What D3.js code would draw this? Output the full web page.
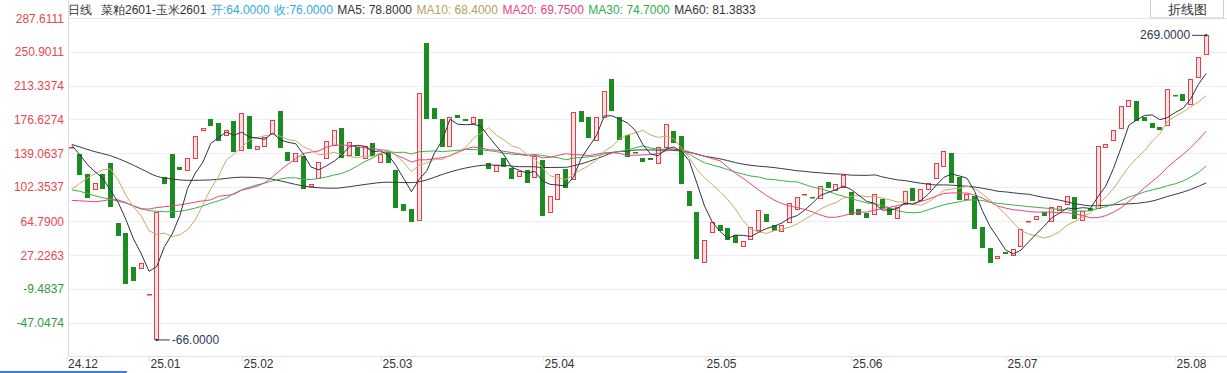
<!DOCTYPE html>
<html><head><meta charset="utf-8">
<script src="https://cdn.jsdelivr.net/npm/d3@7/dist/d3.min.js"></script>
<style>
html,body{margin:0;padding:0;background:#fff;overflow:hidden;}
svg{display:block;font-family:"Liberation Sans",Arial,sans-serif;}
</style></head><body>
<svg id="c" width="1227" height="373"></svg>
<script>
// ---------- data ----------
const opens = [146,139,116,99,116,129,63,52,14.5,12,-16,-66,113,138,124.5,120,132.7,164,177,173,
158.6,175,141.8,180.3,143,146.5,159.4,185.8,140.7,129.4,136.3,102.6,111.8,133.8,147.6,166.8,136.3,145.9,132.7,150.2,
128.3,141,121,83.5,77.7,64,260.3,188.7,176.7,145.5,181.4,176.7,171.5,176.7,128.3,118.4,134.4,122.8,113.5,121,
111.8,132,73.3,88,122,110,186,179.5,153.1,178.4,220.7,179.5,159.4,140.2,133.8,134,128.3,144.8,163.8,158.3,
98,75,18.9,52,60.4,56.8,49.4,36.5,44,54,72.5,60.4,52.4,63.4,77,94.3,91.7,89,107.4,98,
100.8,97,77.7,73.9,71.4,88.7,79.5,67.3,82.4,101.4,86.8,99.7,111,124,139.3,113.5,88,92.6,58.5,35.4,
22.7,31,26.3,36.5,64.6,66.7,75,64,76,83.2,91,65,78.8,78,146,153,165.7,190,197,179.5,
173,168.5,169.3,203.6,204.5,192.4,221.8,247.4];
const closes = [146.3,116,90,107,100,80.5,49,-4,-1,19,-15.7,75,105.5,68,121,134.5,158.3,167,169.6,153,
165,141,183.2,144,147.3,157.5,176,145.5,130.8,139.3,99.7,105.5,130,153.1,165,133.8,152,136.3,147.3,135.5,
138.5,129,78.8,76,63.4,205.3,176.7,176.7,146,178.8,177.8,174,178.8,136.6,121.7,126.4,124,110.7,119.8,106.3,
136.3,70.6,92.3,116.2,101.4,184.3,173.4,156.4,179.5,208.2,185,154.7,135.5,140,129.4,132,146.5,171.5,151,105.2,
81.3,23.8,43.9,64,53.8,43.2,41,42.8,58,77,63.4,54,60.4,85,91,94.6,91.4,103.3,100.8,105.5,
115.4,72,71,68.4,94.2,78.8,71.4,80.5,97.8,86.8,99.7,107,128.3,141.8,106.3,88.7,94.5,56,35.4,19,
26.3,28.5,33.7,56,64.9,70.6,70.3,80,81.6,92.6,67,76,76,147.3,150,165,191.3,198,175,175,
168,165,209.7,203.3,197,220.7,245,269];

// moving-average values read from the picture where the window is not yet full
const ma5Head  = [148,138,127,119];
const ma10Head = [100,106,112,117,121,122,110,93,80];
const ma20Head = [87.5,87,86.5,86,87,88.5,88,85,81,78,78,79.5,80.5,81.5,82.5,84,85.5,87,88];
const ma30Head = [99,97.5,95,92.5,90.5,88.7,86.5,84.5,81.5,78.5,76.2,75.5,75,75,75.5,77,79,81.5,84.5,87,
                  90,95,99,102,104.5,106.5,109,111,112.3];
const ma60HeadIdx = [0,3,5,7,9,11,13,15,18,22,25,27,29,31,34,36,38,41,44,46,48,51,54,56,58];
const ma60HeadVal = [149,141,136.6,130,122,114,111,109.5,110,113,112,109,105,102,100.8,102.6,105,107.5,107,110,116,123,126.4,126,124.5];

const yTickValues = [287.6111,250.9011,213.3374,176.6274,139.0637,102.3537,64.79,27.2263,-9.4837,-47.0474];
const xTickIndex  = [0,10,22,40,61,82,101,121,143];
const xTickLabels = ["24.12","25.01","25.02","25.03","25.04","25.05","25.06","25.07","25.08"];

const headerParts = [
  {t:"日线", c:"#333"},
  {t:"菜粕2601-玉米2601", c:"#333"},
  {t:"开:64.0000", c:"#35a8e6"},
  {t:"收:76.0000", c:"#35a8e6"},
  {t:"MA5: 78.8000", c:"#333"},
  {t:"MA10: 68.4000", c:"#b9a15e"},
  {t:"MA20: 69.7500", c:"#e8417d"},
  {t:"MA30: 74.7000", c:"#2fae4f"},
  {t:"MA60: 81.3833", c:"#333"}
];
const maColors = {ma5:"#2c3345", ma10:"#c8ab66", ma20:"#e8457f", ma30:"#3bb24a", ma60:"#3a3a3a"};

(function draw() {
const svg = d3.select("#c");
const pLeft = 68, pRight = 1210, pBottom = 356;
const n = closes.length;
const x = d3.scaleBand().domain(d3.range(n)).range([pLeft, pRight]);
const cx = i => x(i) + x.bandwidth() / 2;
const y = d3.scaleLinear().domain([-47.0474, 287.6111]).range([322.7, 18.4]);

// grid
svg.append("g").selectAll("line").data(yTickValues).join("line")
  .attr("x1", pLeft).attr("x2", 1227)
  .attr("y1", d => Math.round(y(d)) + 0.5).attr("y2", d => Math.round(y(d)) + 0.5)
  .attr("stroke", "#eceef4").attr("stroke-width", 1);

svg.append("line").attr("x1", pLeft).attr("x2", 1227).attr("y1", 18.5).attr("y2", 18.5)
  .attr("stroke", "#e4e6ee");

svg.append("line").attr("x1", pLeft + 0.5).attr("x2", pLeft + 0.5).attr("y1", 0).attr("y2", pBottom)
  .attr("stroke", "#d9dce8");
svg.append("line").attr("x1", pLeft).attr("x2", 1227).attr("y1", pBottom + 0.5).attr("y2", pBottom + 0.5)
  .attr("stroke", "#dfe2ee");

svg.append("g").selectAll("text").data(yTickValues).join("text")
  .attr("x", 64).attr("y", d => y(d) + 4.5)
  .attr("text-anchor", "end").attr("font-size", 12)
  .attr("fill", d => d >= 0 ? "#e8474d" : "#2f9a3c")
  .text(d => d.toFixed(4));

const xt = svg.append("g");
xTickIndex.forEach((idx, k) => {
  const px = k === 0 ? pLeft - 1 : Math.round(cx(idx)) + 0.5;
  xt.append("line").attr("x1", px).attr("x2", px).attr("y1", pBottom).attr("y2", pBottom + 5)
    .attr("stroke", "#dfe2ee");
  xt.append("text").attr("x", px + 1).attr("y", 368).attr("font-size", 12).attr("fill", "#333")
    .text(xTickLabels[k]);
});

svg.append("line").attr("x1", 0).attr("x2", 127).attr("y1", 372).attr("y2", 372)
  .attr("stroke", "#3b7fd9").attr("stroke-width", 2);

const bw = 5;
const cg = svg.append("g");
d3.range(n).forEach(i => {
  const o = opens[i], c = closes[i];
  const up = c >= o;
  const yt = y(Math.max(o, c)), yb = y(Math.min(o, c));
  const h = yb - yt;
  const x0 = Math.round(cx(i) - bw / 2);
  if (h < 1.5) {
    cg.append("rect").attr("x", x0).attr("y", Math.round(yt)).attr("width", bw).attr("height", 1.5)
      .attr("fill", up ? "#e8353d" : "#1e8e25");
  } else if (up) {
    cg.append("rect").attr("x", x0 + 0.5).attr("y", Math.round(yt) + 0.5)
      .attr("width", bw - 1).attr("height", Math.max(1, Math.round(h) - 1))
      .attr("fill", "#fde2e4").attr("stroke", "#ec3b42").attr("stroke-width", 1);
  } else {
    cg.append("rect").attr("x", x0).attr("y", Math.round(yt)).attr("width", bw).attr("height", Math.round(h))
      .attr("fill", "#1c8c22");
  }
});

function maSeries(head, period) {
  const pts = head.map((v, i) => [i, v]);
  for (let i = period - 1; i < n; i++) {
    pts.push([i, d3.mean(closes.slice(i - period + 1, i + 1))]);
  }
  return pts;
}
const ma60Pts = ma60HeadIdx.map((i, k) => [i, ma60HeadVal[k]]);
for (let i = 59; i < n; i++) ma60Pts.push([i, d3.mean(closes.slice(i - 59, i + 1))]);

const series = [
  ["ma60", ma60Pts, d3.curveMonotoneX],
  ["ma30", maSeries(ma30Head, 30), d3.curveLinear],
  ["ma20", maSeries(ma20Head, 20), d3.curveLinear],
  ["ma10", maSeries(ma10Head, 10), d3.curveLinear],
  ["ma5",  maSeries(ma5Head, 5),  d3.curveLinear]
];
series.forEach(([k, pts, curve]) => {
  svg.append("path").datum(pts)
    .attr("d", d3.line().x(d => cx(d[0])).y(d => y(d[1])).curve(curve))
    .attr("fill", "none").attr("stroke", maColors[k]).attr("stroke-width", 1)
    .attr("stroke-linejoin", "round");
});

const minIdx = d3.minIndex(d3.range(n), i => Math.min(opens[i], closes[i]));
const maxIdx = d3.maxIndex(d3.range(n), i => Math.max(opens[i], closes[i]));
const minVal = Math.min(opens[minIdx], closes[minIdx]);
const maxVal = Math.max(opens[maxIdx], closes[maxIdx]);
const ann = svg.append("g");
ann.append("line").attr("x1", cx(minIdx)).attr("x2", cx(minIdx) + 13)
  .attr("y1", y(minVal)).attr("y2", y(minVal)).attr("stroke", "#2d3b55");
ann.append("circle").attr("cx", cx(minIdx)).attr("cy", y(minVal)).attr("r", 1.3).attr("fill", "#2d3b55");
ann.append("text").attr("x", cx(minIdx) + 15).attr("y", y(minVal) + 4)
  .attr("font-size", 12).attr("fill", "#2d3b55").text(minVal.toFixed(4));
ann.append("line").attr("x1", cx(maxIdx)).attr("x2", cx(maxIdx) - 14)
  .attr("y1", y(maxVal)).attr("y2", y(maxVal)).attr("stroke", "#2d3b55");
ann.append("circle").attr("cx", cx(maxIdx)).attr("cy", y(maxVal)).attr("r", 1.3).attr("fill", "#2d3b55");
ann.append("text").attr("x", cx(maxIdx) - 16).attr("y", y(maxVal) + 4).attr("text-anchor", "end")
  .attr("font-size", 12).attr("fill", "#2d3b55").text(maxVal.toFixed(4));

// header, laid out sequentially
const hd = svg.append("g");
let hx = 68;
headerParts.forEach((p, k) => {
  const t = hd.append("text").attr("x", hx).attr("y", 13.5).attr("font-size", 12).attr("fill", p.c).text(p.t);
  hx += t.node().getComputedTextLength() + (k === 0 ? 9 : 4.5);
});
hd.append("rect").attr("x", 1150.5).attr("y", -1).attr("width", 73).attr("height", 19)
  .attr("fill", "#fff").attr("stroke", "#c9cbe0");
hd.append("text").attr("x", 1187).attr("y", 14).attr("text-anchor", "middle").attr("font-size", 13)
  .attr("fill", "#333").text("折线图");
})();
</script>
</body></html>
